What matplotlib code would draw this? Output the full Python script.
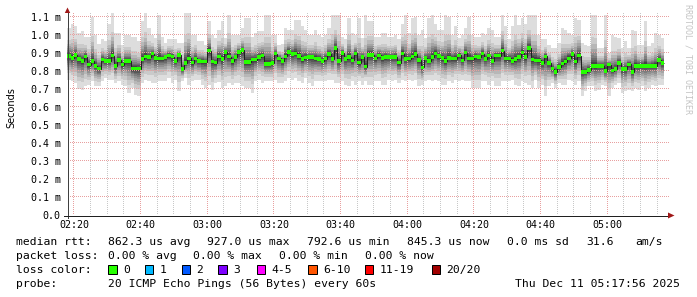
import numpy as np
import matplotlib
matplotlib.use("Agg")
import matplotlib.pyplot as plt
from matplotlib.patches import Polygon, Rectangle
from matplotlib.lines import Line2D

# ---------------- data (ms, one value per minute starting 02:18) ----------------
first_minute = 18          # minutes after 02:00 of first step
view_start = 17 + 56/60.0  # 02:17:56
view_end = view_start + 180

median = [
    0.883, 0.872, 0.889, 0.867, 0.856, 0.880, 0.835, 0.856, 0.828, 0.813,
    0.863, 0.854, 0.857, 0.885, 0.826, 0.861, 0.835, 0.854, 0.854, 0.813,
    0.813, 0.813, 0.867, 0.880, 0.876, 0.896, 0.872, 0.870, 0.870, 0.876,
    0.887, 0.880, 0.854, 0.889, 0.811, 0.843, 0.870, 0.846, 0.870, 0.856,
    0.852, 0.852, 0.913, 0.852, 0.846, 0.880, 0.867, 0.904, 0.880, 0.854,
    0.876, 0.904, 0.915, 0.850, 0.850, 0.863, 0.863, 0.876, 0.885, 0.839,
    0.839, 0.844, 0.896, 0.870, 0.854, 0.881, 0.907, 0.894, 0.898, 0.883,
    0.865, 0.874, 0.876, 0.876, 0.869, 0.867, 0.856, 0.869, 0.893, 0.867,
    0.926, 0.854, 0.900, 0.867, 0.878, 0.859, 0.898, 0.846, 0.876, 0.824,
    0.889, 0.889, 0.870, 0.887, 0.872, 0.878, 0.878, 0.878, 0.878, 0.846,
    0.896, 0.865, 0.869, 0.881, 0.893, 0.861, 0.820, 0.872, 0.854, 0.876,
    0.896, 0.883, 0.872, 0.854, 0.872, 0.869, 0.869, 0.887, 0.859, 0.902,
    0.869, 0.869, 0.880, 0.876, 0.896, 0.867, 0.885, 0.857, 0.885, 0.885,
    0.913, 0.870, 0.870, 0.857, 0.865, 0.878, 0.902, 0.876, 0.926, 0.863,
    0.859, 0.859, 0.843, 0.881, 0.844, 0.813, 0.794, 0.822, 0.841, 0.852,
    0.870, 0.893, 0.852, 0.885, 0.794, 0.794, 0.804, 0.829, 0.826, 0.829,
    0.829, 0.800, 0.835, 0.802, 0.811, 0.844, 0.811, 0.811, 0.837, 0.794,
    0.829, 0.829, 0.829, 0.829, 0.829, 0.829, 0.829, 0.861, 0.844,
]

ping_max = [
    1.04, 1.06, 1.05, 1.01, 1.02, 0.99, 0.99, 1.10, 1.00, 0.95,
    0.98, 0.965, 1.06, 1.12, 1.01, 1.01, 0.946, 1.00, 1.00, 0.99,
    0.99, 0.965, 1.08, 1.12, 1.04, 1.00, 0.985, 1.11, 0.99, 0.955,
    0.98, 0.98, 0.975, 0.955, 0.955, 1.12, 1.12, 1.00, 1.00, 0.965,
    0.965, 0.946, 1.08, 1.00, 0.985, 1.03, 1.076, 0.983, 1.11, 1.00,
    1.00, 1.00, 1.04, 1.094, 1.094, 0.99, 1.01, 1.02, 1.02, 1.11,
    1.11, 1.00, 1.00, 0.946, 0.95, 1.04, 1.03, 1.03, 1.085, 1.085,
    1.05, 1.03, 1.00, 1.00, 1.03, 1.00, 0.99, 1.00, 1.04, 1.11,
    1.11, 1.11, 0.99, 0.975, 1.094, 1.01, 1.00, 1.094, 0.983, 1.11,
    1.076, 1.076, 0.99, 0.99, 1.01, 1.01, 0.99, 0.99, 1.00, 0.975,
    1.06, 1.11, 1.01, 1.094, 1.10, 1.00, 1.03, 0.983, 1.094, 1.11,
    1.06, 1.03, 1.03, 1.11, 1.10, 1.00, 1.05, 0.983, 1.00, 1.04,
    1.10, 1.00, 0.99, 0.99, 1.01, 1.00, 1.04, 1.03, 0.99, 0.99,
    1.11, 1.05, 0.975, 1.05, 1.11, 1.057, 1.094, 1.06, 1.11, 1.11,
    1.11, 1.00, 0.975, 0.975, 0.946, 0.928, 0.928, 0.956, 1.04, 1.03,
    1.01, 1.00, 1.094, 1.085, 0.956, 0.946, 0.937, 1.11, 1.11, 0.928,
    0.928, 1.11, 0.90, 1.00, 0.99, 0.983, 0.928, 0.965, 0.928, 1.03,
    1.02, 0.946, 0.946, 1.076, 0.937, 0.956, 1.01, 1.00, 0.983,
]

ping_min = [
    0.752, 0.743, 0.733, 0.700, 0.696, 0.715, 0.720, 0.743, 0.715, 0.715,
    0.743, 0.761, 0.752, 0.752, 0.733, 0.743, 0.724, 0.715, 0.678, 0.706,
    0.669, 0.659, 0.733, 0.752, 0.743, 0.733, 0.733, 0.743, 0.743, 0.743,
    0.761, 0.733, 0.752, 0.687, 0.743, 0.761, 0.724, 0.743, 0.752, 0.752,
    0.724, 0.706, 0.724, 0.696, 0.733, 0.740, 0.706, 0.715, 0.733, 0.724,
    0.733, 0.733, 0.715, 0.706, 0.706, 0.678, 0.743, 0.752, 0.733, 0.743,
    0.743, 0.743, 0.752, 0.733, 0.733, 0.743, 0.761, 0.752, 0.761, 0.743,
    0.733, 0.761, 0.733, 0.715, 0.743, 0.743, 0.743, 0.743, 0.752, 0.752,
    0.733, 0.733, 0.743, 0.724, 0.715, 0.743, 0.724, 0.743, 0.724, 0.743,
    0.724, 0.724, 0.743, 0.743, 0.724, 0.724, 0.752, 0.743, 0.752, 0.733,
    0.752, 0.743, 0.752, 0.743, 0.752, 0.715, 0.724, 0.743, 0.752, 0.743,
    0.752, 0.743, 0.724, 0.724, 0.743, 0.733, 0.752, 0.743, 0.752, 0.743,
    0.743, 0.706, 0.706, 0.706, 0.743, 0.743, 0.724, 0.743, 0.715, 0.715,
    0.743, 0.743, 0.743, 0.752, 0.724, 0.715, 0.743, 0.733, 0.724, 0.706,
    0.752, 0.706, 0.724, 0.659, 0.715, 0.733, 0.706, 0.733, 0.724, 0.724,
    0.752, 0.743, 0.724, 0.743, 0.659, 0.687, 0.715, 0.715, 0.687, 0.696,
    0.724, 0.715, 0.659, 0.706, 0.724, 0.733, 0.678, 0.687, 0.696, 0.687,
    0.706, 0.696, 0.715, 0.687, 0.706, 0.724, 0.715, 0.724, 0.724,
]

x_tick_minutes = [20, 40, 60, 80, 100, 120, 140, 160, 180]
x_tick_labels = ["02:20", "02:40", "03:00", "03:20", "03:40", "04:00", "04:20", "04:40", "05:00"]
y_ticks = [0.0, 0.1, 0.2, 0.3, 0.4, 0.5, 0.6, 0.7, 0.8, 0.9, 1.0, 1.1]
y_tick_labels = ["0.0", "0.1 m", "0.2 m", "0.3 m", "0.4 m", "0.5 m", "0.6 m",
                 "0.7 m", "0.8 m", "0.9 m", "1.0 m", "1.1 m"]

loss_labels = ["0", "1", "2", "3", "4-5", "6-10", "11-19", "20/20"]
loss_colors = ["#26ff00", "#00b8ff", "#0059ff", "#7e00ff", "#ff00ff", "#ff5500", "#ff0000", "#a10000"]

# smoke rendering style: 10 gray layers (outer pair of pings -> inner pair)
smoke_grays = [221, 202, 183, 164, 145, 126, 107, 88, 69, 50]
smoke_frac_up = [1.0, 0.56, 0.43, 0.34, 0.27, 0.21, 0.16, 0.115, 0.075, 0.04]
smoke_frac_dn = [1.0, 0.74, 0.59, 0.48, 0.38, 0.30, 0.22, 0.16, 0.10, 0.05]

# ---------------- figure ----------------
W, H = 697, 297
fig = plt.figure(figsize=(W / 100, H / 100), dpi=100)
fig.patch.set_facecolor("white")

def fx(px):
    return px / W

def fy(py):
    return 1 - py / H

L, R, T, B = 67, 667, 13, 215
YMAX = 1.122

def make_axes(z):
    a = fig.add_axes([fx(L), fy(B), (R - L) / W, (B - T) / H], zorder=z)
    a.set_xlim(view_start, view_end)
    a.set_ylim(0, YMAX)
    a.patch.set_visible(False)
    for s in a.spines.values():
        s.set_visible(False)
    a.set_xticks([])
    a.set_yticks([])
    return a

ax = make_axes(0)      # smoke
ax_top = make_axes(2)  # median line drawn above the grid

def xpix(m):
    return L + (m - view_start) / (view_end - view_start) * (R - L)

def ypix(v):
    return B - v / YMAX * (B - T)

n = len(median)
edges = first_minute + np.arange(n + 1)
med = np.array(median)
hi = np.array(ping_max)
lo = np.array(ping_min)

for fu, fd, g in zip(smoke_frac_up, smoke_frac_dn, smoke_grays):
    up = med + fu * (hi - med)
    dn = med - fd * (med - lo)
    c = (g / 255.0,) * 3
    ax.stairs(up, edges, baseline=dn, fill=True, color=c, lw=0)

# dotted grid as a pixel-exact overlay image (between smoke and median)
grid = np.zeros((H, W, 4))
minor_rgba = (200 / 255, 200 / 255, 200 / 255, 1.0)
major_rgba = (232 / 255, 160 / 255, 160 / 255, 1.0)
for m in range(20, 200, 5):
    if m % 20 != 0 and m < view_end:
        c = int(np.floor(xpix(m)))
        grid[T:B:2, c] = minor_rgba
for m in x_tick_minutes:
    c = int(np.floor(xpix(m)))
    grid[T:B:2, c] = major_rgba
for v in y_ticks[1:]:
    r = int(np.floor(ypix(v)))
    grid[r, L + 1:R + 2:2] = major_rgba
fig.figimage(grid, xo=0, yo=0, origin="upper", zorder=1)

# median: thin dark step line plus green boxes
px = 72.0 / 100.0  # one pixel in points
ax_top.stairs(med, edges, baseline=None, color="#202020", lw=px, zorder=4)
half_h = 1.8 * 0.1 / 18.0
ax_top.stairs(med + half_h, edges, baseline=med - half_h, fill=True,
              color=loss_colors[0], lw=0, zorder=5)

# axes lines and arrows
fig.add_artist(Line2D([fx(L + 0.5), fx(L + 0.5)], [fy(218), fy(12)], color="#404040", lw=px, zorder=3))
fig.add_artist(Line2D([fx(L - 3), fx(669)], [fy(B + 0.5), fy(B + 0.5)], color="#202020", lw=px, zorder=3))
fig.add_artist(Polygon([(fx(64.8), fy(13)), (fx(70.2), fy(13)), (fx(67.5), fy(7.5))],
                       closed=True, transform=fig.transFigure, color="#a01818", lw=0, zorder=3))
fig.add_artist(Polygon([(fx(668), fy(212.5)), (fx(668), fy(218.5)), (fx(674.5), fy(215.5))],
                       closed=True, transform=fig.transFigure, color="#a01818", lw=0, zorder=3))

mono = "DejaVu Sans Mono"

# tick labels
for m, lab in zip(x_tick_minutes, x_tick_labels):
    fig.text(fx(xpix(m)), fy(228), lab, ha="center", va="baseline",
             family=mono, fontsize=7.2, color="black")
for v, lab in zip(y_ticks, y_tick_labels):
    fig.text(fx(60.5), fy(ypix(v) + 3.6), lab, ha="right", va="baseline",
             family=mono, fontsize=7.2, color="black")

fig.text(fx(11), fy(108), "Seconds", rotation=90, ha="center", va="center",
         family="DejaVu Sans", fontsize=7.0, color="black")
fig.text(fx(688), fy(4), "RRDTOOL / TOBI OETIKER", rotation=270, ha="center", va="top",
         family=mono, fontsize=6.0, color="#c4c4c4")

# legend
lf = 8.2
def ltext(x, yc, s, ha="left"):
    fig.text(fx(x), fy(yc + 3.9), s, ha=ha, va="baseline", family=mono,
             fontsize=lf, color="black")

ltext(16, 241, "median rtt:")
for x, s in [(107.7, "862.3 us avg"), (206.7, "927.0 us max"), (306.7, "792.6 us min"),
             (407, "845.3 us now"), (506.7, "0.0 ms sd"), (586.7, "31.6"), (635, "am/s")]:
    ltext(x, 241, s)
ltext(16, 255, "packet loss:")
for x, s in [(107.7, "0.00 % avg"), (193, "0.00 % max"), (279, "0.00 % min"), (365, "0.00 % now")]:
    ltext(x, 255, s)
ltext(16, 269, "loss color:")
box_x = [108.3, 145, 181.7, 218.3, 256.7, 308.3, 365, 431.7]
for bx, lab, col in zip(box_x, loss_labels, loss_colors):
    fig.add_artist(Rectangle((fx(bx), fy(273.7)), 8.4 / W, 8.4 / H, transform=fig.transFigure,
                             facecolor=col, edgecolor="black", lw=px, zorder=3))
    ltext(bx + 14.5, 269, lab)
ltext(16, 283, "probe:")
ltext(107.7, 283, "20 ICMP Echo Pings (56 Bytes) every 60s")
ltext(680, 283, "Thu Dec 11 05:17:56 2025", ha="right")

fig.savefig("out.png", dpi=100, facecolor="white")
